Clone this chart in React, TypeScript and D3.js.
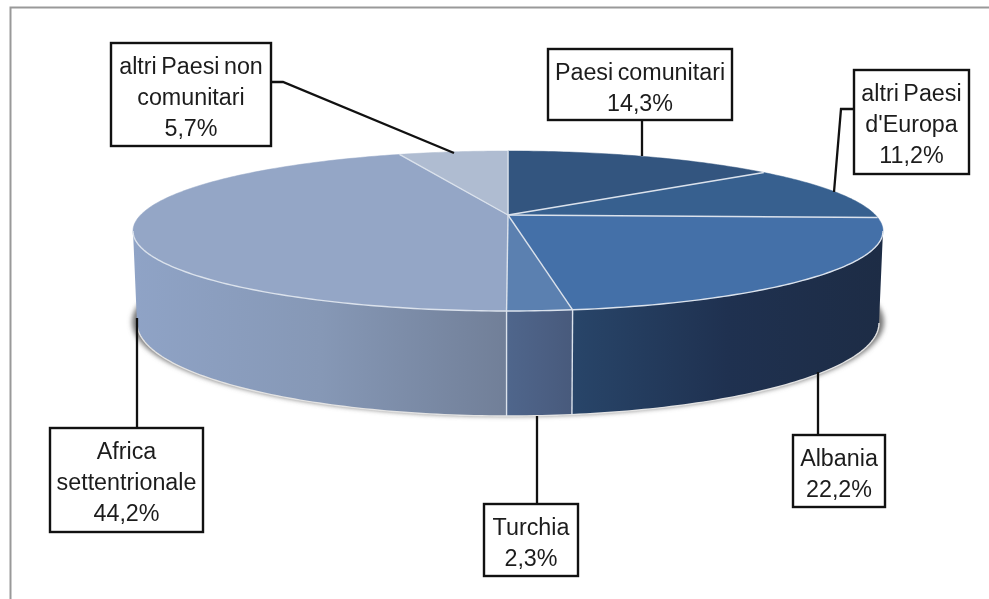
import React from "react";
import * as d3 from "d3";

const categories = ["Paesi comunitari", "altri Paesi d'Europa", "Albania", "Turchia", "Africa settentrionale", "altri Paesi non comunitari"];
const values = [14.3, 11.2, 22.2, 2.3, 44.2, 5.7];
const labelLines = [
  ["Paesi comunitari", "14,3%"],
  ["altri Paesi", "d'Europa", "11,2%"],
  ["Albania", "22,2%"],
  ["Turchia", "2,3%"],
  ["Africa", "settentrionale", "44,2%"],
  ["altri Paesi non", "comunitari", "5,7%"],
];
const topColors = ["#33557f", "#37608f", "#4470a8", "#5b80b0", "#94a6c6", "#afbcd1"];
const sideStops = [
  ["#33557f", "#33557f", "#33557f"],
  ["#37608f", "#37608f", "#37608f"],
  ["#284569", "#1f3150", "#1d2c45"],
  ["#4f668c", "#4c6084", "#485a7c"],
  ["#8fa3c6", "#8698b6", "#717f98"],
  ["#afbcd1", "#afbcd1", "#afbcd1"],
];
// label box: x0, y0, x1, y1
const boxes = [
  [548, 49, 732, 120],
  [854, 70, 969, 174],
  [793, 435, 885, 507],
  [484, 504, 578, 576],
  [50, 428, 203, 532],
  [111, 43, 271, 146],
];
const leaders: [number, number][][] = [
  [[642, 120], [642, 156]],
  [[854, 109], [841, 109], [834, 192]],
  [[818, 435], [818, 372]],
  [[537, 504], [537, 416]],
  [[137, 428], [137, 318]],
  [[271, 82], [283, 82], [454, 153]],
];

const W = 989, H = 599;
const tilt = 0.2; // apex sits above the ellipse centre (perspective)
const topX = d3.scaleLinear().domain([-1, 1]).range([133, 883]);
const topY = d3.scaleLinear().domain([-1, 1]).range([311, 151]);
const botX = d3.scaleLinear().domain([-1, 1]).range([137, 879]);
const botY = d3.scaleLinear().domain([-1, 1]).range([416, 230]);

// hyperbolic translation of the unit disc: keeps the rim, moves the apex
const disc = (a: number, r = 1): [number, number] => {
  const x = r * Math.sin(a), y = r * Math.cos(a);
  const d = 1 + tilt * y;
  return [(x * Math.sqrt(1 - tilt * tilt)) / d, (y + tilt) / d];
};
const onTop = (a: number, r = 1): [number, number] => {
  const [x, y] = disc(a, r);
  return [topX(x), topY(y)];
};
const onBot = (a: number): [number, number] => {
  const [x, y] = disc(a);
  return [botX(x), botY(y)];
};

const line = d3.line();
const samples = (a0: number, a1: number) => {
  const n = Math.max(2, Math.ceil(Math.abs(a1 - a0) * 60));
  return d3.range(n + 1).map((i) => a0 + ((a1 - a0) * i) / n);
};

const arcs = d3.pie<number>().sort(null).value((d) => d)(values);
const frontStart = Math.acos(-tilt);
const frontEnd = 2 * Math.PI - frontStart;

export default function App() {
  return (
    <svg width={W} height={H} style={{ position: "fixed", left: 0, top: 0, background: "#fff" }} fontFamily="'Liberation Sans', Arial, sans-serif">
      <defs>
        <filter id="sh" x="-10%" y="-20%" width="120%" height="140%">
          <feGaussianBlur stdDeviation="2.5" />
        </filter>
        <filter id="soft" x="0" y="0" width="100%" height="100%" filterUnits="userSpaceOnUse" primitiveUnits="userSpaceOnUse">
          <feGaussianBlur stdDeviation="0.4" />
        </filter>
        {arcs.map((d, i) => {
          const a0 = Math.max(d.startAngle, frontStart), a1 = Math.min(d.endAngle, frontEnd);
          if (a1 <= a0) return null;
          return (
            <linearGradient key={i} id={`g${i}`} gradientUnits="userSpaceOnUse" x1={Math.min(onTop(a0)[0], onTop(a1)[0])} x2={Math.max(onTop(a0)[0], onTop(a1)[0])} y1={0} y2={0}>
              <stop offset="0%" stopColor={sideStops[i][0]} />
              <stop offset="50%" stopColor={sideStops[i][1]} />
              <stop offset="100%" stopColor={sideStops[i][2]} />
            </linearGradient>
          );
        })}
      </defs>

      <g style={{ filter: "blur(0.4px)" }}>
        <path d={line([[10.5, H + 5], [10.5, 7.5], [W + 5, 7.5]])!} fill="none" stroke="#999" strokeWidth={2} />

        <ellipse cx={508} cy={322} rx={376} ry={94} fill="#777" filter="url(#sh)" />

        {arcs.map((d, i) => {
          const a0 = Math.max(d.startAngle, frontStart), a1 = Math.min(d.endAngle, frontEnd);
          if (a1 <= a0) return null;
          const s = samples(a0, a1);
          const pts = [...s.map((a) => onTop(a)), ...s.slice().reverse().map((a) => onBot(a))];
          return <path key={categories[i]} d={line(pts)! + "Z"} fill={`url(#g${i})`} />;
        })}

        {arcs.map((d, i) => {
          const pts = [onTop(0, 0), ...samples(d.startAngle, d.endAngle).map((a) => onTop(a))];
          return <path key={categories[i]} d={line(pts)! + "Z"} fill={topColors[i]} stroke={topColors[i]} strokeWidth={0.5} />;
        })}

        <g fill="none" stroke="#dbe2ec" strokeWidth={1.4}>
          {arcs.map((d, i) => (
            <path key={i} d={line([onTop(0, 0), onTop(d.startAngle)])!} />
          ))}
          <path d={line(samples(frontStart, frontEnd).map((a) => onTop(a)))!} />
          <path d={line(samples(frontStart, frontEnd).map((a) => onBot(a)))!} stroke="#e3e3e3" />
          {arcs.slice(2, 4).map((d, i) => (
            <path key={i} d={line([onTop(d.endAngle), onBot(d.endAngle)])!} />
          ))}
        </g>

        <g fill="none" stroke="#111" strokeWidth={2.3}>
          {leaders.map((l, i) => (
            <path key={i} d={line(l)!} />
          ))}
        </g>

        {boxes.map(([x0, y0, x1, y1], i) => (
          <g key={i}>
            <rect x={x0} y={y0} width={x1 - x0} height={y1 - y0} fill="#fff" stroke="#111" strokeWidth={2.4} />
            <text textAnchor="middle" fontSize={23.3} fill="#1c1c1c" wordSpacing={-2}>
              {labelLines[i].map((t, j) => (
                <tspan key={j} x={(x0 + x1) / 2} y={y0 + 31 + j * 31}>{t}</tspan>
              ))}
            </text>
          </g>
        ))}
      </g>
    </svg>
  );
}
